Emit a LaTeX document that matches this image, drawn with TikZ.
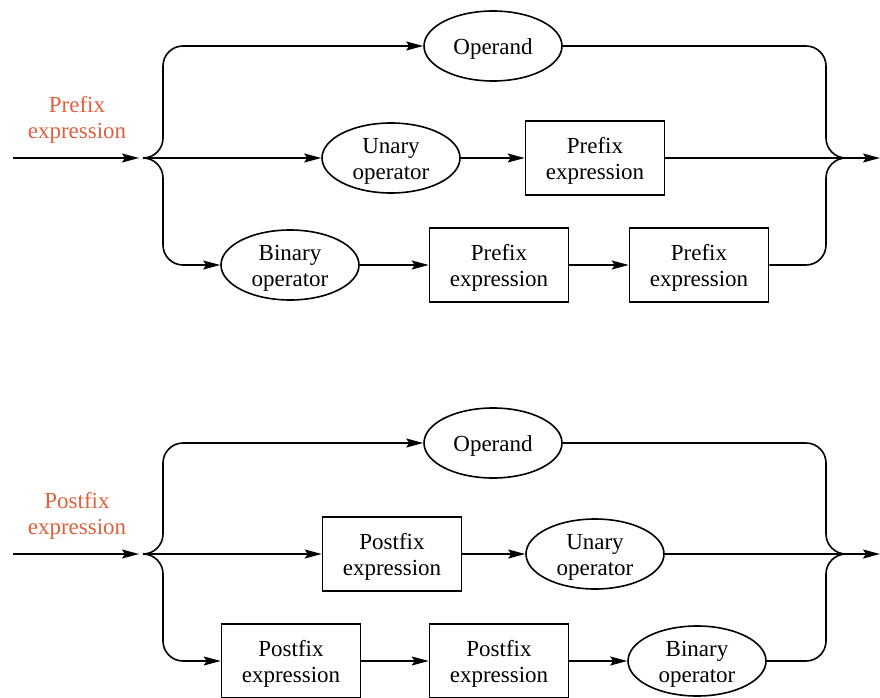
\documentclass[tikz,border=0pt]{standalone}
\usepackage{fontspec}
\setmainfont{Liberation Serif}
\usetikzlibrary{arrows.meta,shapes.geometric}
\definecolor{lbl}{RGB}{222,96,60}
\newcommand\upstrut{\rule{0pt}{22pt}}
\begin{document}
\begin{tikzpicture}[x=1pt,y=1pt,
  every node/.style={font=\fontsize{23}{26}\selectfont, align=center, inner sep=0pt},
  term/.style={draw, line width=1.6pt, ellipse, inner ysep=-10pt, minimum width=138pt, minimum height=70pt},
  nonterm/.style={draw, line width=1.6pt, rectangle, minimum width=139pt, minimum height=74pt},
  lab/.style={text=lbl},
  flow/.style={line width=1.6pt, rounded corners=20pt},
  arr/.style={flow, -{Stealth[length=17pt,width=9pt,inset=3pt]}}]
\useasboundingbox (0,0) rectangle (880,-698);

% ---------- Prefix ----------
\node[lab] (t1) at (77,-117) {\upstrut Prefix\\expression};
\coordinate (in1) at (13,-158);
\coordinate (ja) at (143,-158);
\coordinate (jb) at (846,-158);
\coordinate (out1) at (880,-158);
\node[term] (op1) at (493,-46) {\upstrut Operand};
\node[term] (un1) at (391,-158) {\upstrut Unary\\operator};
\node[nonterm] (pa) at (595,-158) {\upstrut Prefix\\expression};
\node[term] (bi1) at (290,-265) {\upstrut Binary\\operator};
\node[nonterm] (pb) at (499,-265) {\upstrut Prefix\\expression};
\node[nonterm] (pc) at (699,-265) {\upstrut Prefix\\expression};

\draw[arr, shorten >=4pt] (in1) -- (ja);
\draw[arr] (ja) -- (163,-158) -- (163,-46) -- (op1);
\draw[arr] (ja) -- (un1);
\draw[arr] (un1) -- (pa);
\draw[flow] (pa) -- (jb);
\draw[arr] (jb) -- (out1);
\draw[flow] (op1) -- (826,-46) -- (826,-158) -- (jb);
\draw[arr] (ja) -- (163,-158) -- (163,-265) -- (bi1);
\draw[arr] (bi1) -- (pb);
\draw[arr] (pb) -- (pc);
\draw[flow] (pc) -- (826,-265) -- (826,-158) -- (jb);

% ---------- Postfix ----------
\node[lab] (t2) at (77,-513) {\upstrut Postfix\\expression};
\coordinate (in2) at (13,-554);
\coordinate (jc) at (143,-554);
\coordinate (jd) at (846,-554);
\coordinate (out2) at (880,-554);
\node[term] (op2) at (493,-443) {\upstrut Operand};
\node[nonterm] (qa) at (392,-554) {\upstrut Postfix\\expression};
\node[term] (un2) at (595,-554) {\upstrut Unary\\operator};
\node[nonterm] (qb) at (291,-661) {\upstrut Postfix\\expression};
\node[nonterm] (qc) at (499,-661) {\upstrut Postfix\\expression};
\node[term] (bi2) at (697,-661) {\upstrut Binary\\operator};

\draw[arr, shorten >=4pt] (in2) -- (jc);
\draw[arr] (jc) -- (163,-554) -- (163,-443) -- (op2);
\draw[arr] (jc) -- (qa);
\draw[arr] (qa) -- (un2);
\draw[flow] (un2) -- (jd);
\draw[arr] (jd) -- (out2);
\draw[flow] (op2) -- (826,-443) -- (826,-554) -- (jd);
\draw[arr] (jc) -- (163,-554) -- (163,-661) -- (qb);
\draw[arr] (qb) -- (qc);
\draw[arr] (qc) -- (bi2);
\draw[flow] (bi2) -- (826,-661) -- (826,-554) -- (jd);
\end{tikzpicture}
\end{document}
